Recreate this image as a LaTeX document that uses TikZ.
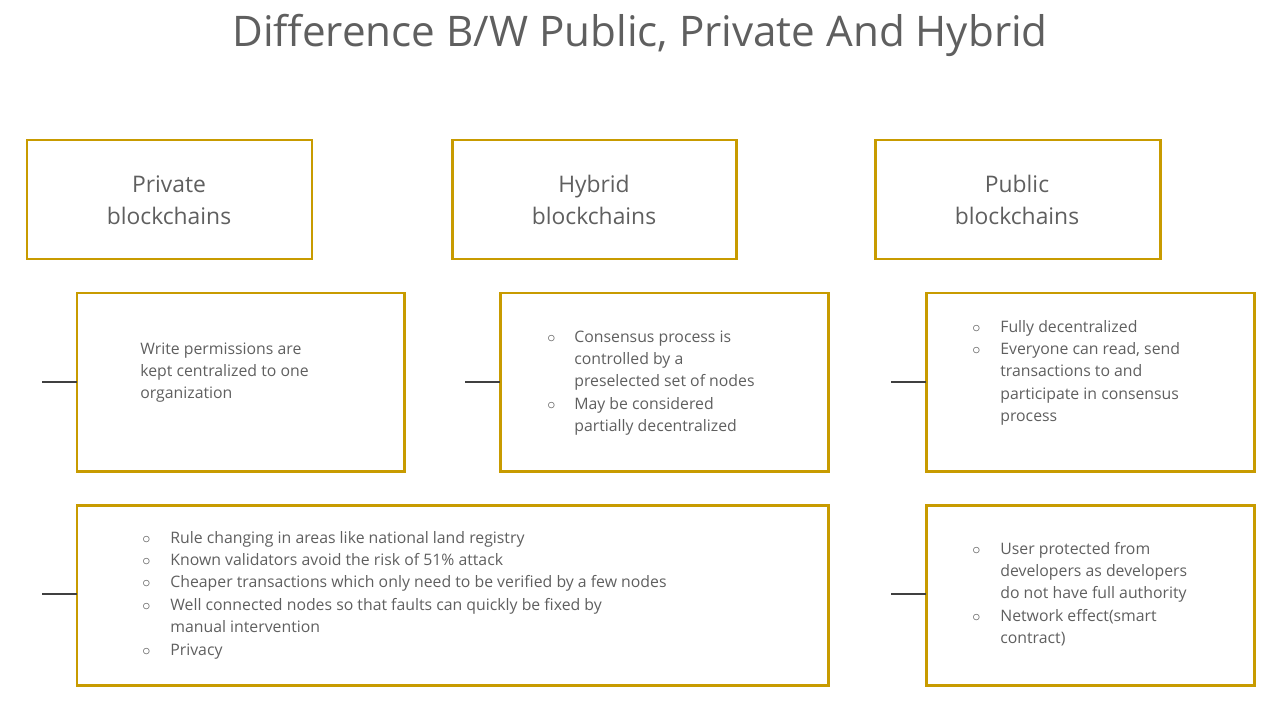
\documentclass[tikz,border=0pt]{standalone}
\usepackage{fontspec}
\setmainfont{Open Sans}
\definecolor{gold}{RGB}{200,155,0}
\definecolor{txt}{RGB}{95,95,95}
\begin{document}
\begin{tikzpicture}[x=0.02cm,y=-0.02cm,
  box/.style={draw=gold,line width=1.7pt},
  conn/.style={draw=black!75,line width=0.6pt},
  head/.style={text=txt,align=center,font=\fontsize{13}{18}\selectfont},
  body/.style={text=txt,anchor=base west,inner sep=0pt,font=\fontsize{9}{12.8}\selectfont}]
\useasboundingbox (0,0) rectangle (1280,720);
\node[text=txt,font=\fontsize{24}{28}\selectfont] (title) at (640,35) {Difference B/W Public, Private And Hybrid};
% header boxes
\draw[box] (27,140) rectangle (312,259);
\draw[box] (452,140) rectangle (736,259);
\draw[box] (875,140) rectangle (1160,259);
\node[head] (h1) at (169,200) {Private\\blockchains};
\node[head] (h2) at (594,200) {Hybrid\\blockchains};
\node[head] (h3) at (1017,200) {Public\\blockchains};
% boxes
\draw[box] (77,293) rectangle (404,471);
\draw[box] (500,293) rectangle (828,471);
\draw[box] (926,293) rectangle (1254,471);
\draw[box] (77,505) rectangle (828,685);
\draw[box] (926,505) rectangle (1254,685);
\coordinate (a1) at (42,382); \coordinate (b1) at (77,382);
\coordinate (a2) at (465,382); \coordinate (b2) at (500,382);
\coordinate (a3) at (891,382); \coordinate (b3) at (926,382);
\coordinate (a4) at (42,594); \coordinate (b4) at (77,594);
\coordinate (a5) at (891,594); \coordinate (b5) at (926,594);
\draw[conn] (a1)--(b1); \draw[conn] (a2)--(b2); \draw[conn] (a3)--(b3);
\draw[conn] (a4)--(b4); \draw[conn] (a5)--(b5);
% texts
\node[body] (t1) at (140,354) {\begin{tabular}[t]{@{}l@{}}Write permissions are\\kept centralized to one\\organization\end{tabular}};
\node[body] (t2) at (547,342) {\begin{tabular}[t]{@{}p{0.54cm}@{}l@{}}$\circ$&Consensus process is\\&controlled by a\\&preselected set of nodes\\$\circ$&May be considered\\&partially decentralized\end{tabular}};
\node[body] (t3) at (972,332) {\begin{tabular}[t]{@{}p{0.56cm}@{}l@{}}$\circ$&Fully decentralized\\$\circ$&Everyone can read, send\\&transactions to and\\&participate in consensus\\&process\end{tabular}};
\node[body] (t4) at (142,543) {\begin{tabular}[t]{@{}p{0.56cm}@{}l@{}}$\circ$&Rule changing in areas like national land registry\\$\circ$&Known validators avoid the risk of 51\% attack\\$\circ$&Cheaper transactions which only need to be verified by a few nodes\\$\circ$&Well connected nodes so that faults can quickly be fixed by\\&manual intervention\\$\circ$&Privacy\end{tabular}};
\node[body] (t5) at (972,554) {\begin{tabular}[t]{@{}p{0.56cm}@{}l@{}}$\circ$&User protected from\\&developers as developers\\&do not have full authority\\$\circ$&Network effect(smart\\&contract)\end{tabular}};
\end{tikzpicture}
\end{document}
